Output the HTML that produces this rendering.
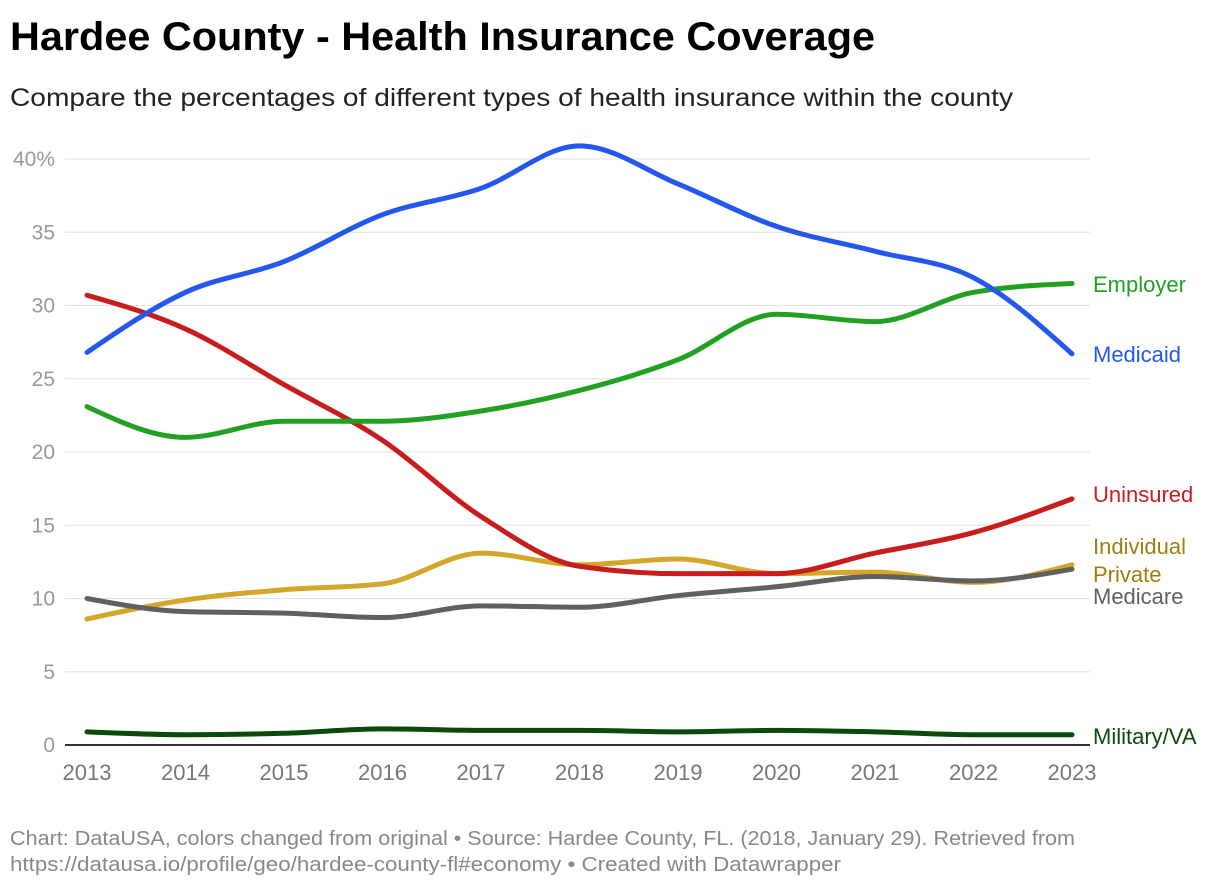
<!DOCTYPE html>
<html><head><meta charset="utf-8"><style>
body{margin:0;background:#fff;width:1220px;height:888px;overflow:hidden;font-family:"Liberation Sans",Roboto,sans-serif}
</style></head><body>
<svg id="chart" width="1220" height="888" xmlns="http://www.w3.org/2000/svg" font-family="Liberation Sans, sans-serif">
<text x="10" y="50" font-size="40" font-weight="bold" fill="#000" textLength="865" lengthAdjust="spacingAndGlyphs">Hardee County - Health Insurance Coverage</text>
<text x="10" y="106" font-size="25" fill="#222" textLength="1003" lengthAdjust="spacingAndGlyphs">Compare the percentages of different types of health insurance within the county</text>
<g id="grid"></g><g id="lines"></g><g id="labels"></g>
<text x="10" y="845" font-size="20" fill="#888" textLength="1065" lengthAdjust="spacingAndGlyphs">Chart: DataUSA, colors changed from original • Source: Hardee County, FL. (2018, January 29). Retrieved from</text>
<text x="10" y="871" font-size="20" fill="#888" textLength="831" lengthAdjust="spacingAndGlyphs">https://datausa.io/profile/geo/hardee-county-fl#economy • Created with Datawrapper</text>
</svg>
<script>
const years=[2013,2014,2015,2016,2017,2018,2019,2020,2021,2022,2023];
const yTicks=[0,5,10,15,20,25,30,35,40];
const medicaid=[26.8,30.9,33.0,36.2,38.0,40.9,38.3,35.4,33.7,31.9,26.7];
const employer=[23.1,21.0,22.1,22.1,22.8,24.2,26.3,29.4,28.9,30.9,31.5];
const uninsured=[30.7,28.4,24.6,20.8,15.6,12.2,11.7,11.7,13.1,14.5,16.8];
const individualPrivate=[8.6,9.9,10.6,11.0,13.1,12.3,12.7,11.7,11.8,11.1,12.3];
const medicare=[10.0,9.1,9.0,8.7,9.5,9.4,10.2,10.8,11.5,11.2,12.0];
const military=[0.9,0.7,0.8,1.1,1.0,1.0,0.9,1.0,0.9,0.7,0.7];
const seriesNames=["Employer","Medicaid","Uninsured","Individual Private","Medicare","Military/VA"];

const NS="http://www.w3.org/2000/svg";
const x=v=>87+(v-2013)*98.5;
const y=v=>745-v*14.65;
function mk(t,a,p){const e=document.createElementNS(NS,t);for(const k in a)e.setAttribute(k,a[k]);p.appendChild(e);return e;}
const grid=document.getElementById('grid');
yTicks.forEach(t=>{
  if(t>0){const l=mk('line',{x1:65,x2:1090,y1:y(t),y2:y(t),stroke:'#e0e0e0','stroke-width':1},grid);
  
  }
  const tx=mk('text',{x:55,y:y(t)+7,'text-anchor':'end','font-size':21,fill:'#999'},grid);
  tx.textContent=t===40?'40%':t;
  
  
});
const base=mk('line',{x1:65,x2:1090,y1:745,y2:745,stroke:'#333','stroke-width':2},grid);


years.forEach(yr=>{
  const tx=mk('text',{x:x(yr),y:780,'text-anchor':'middle','font-size':22,fill:'#777'},grid);
  tx.textContent=yr;
  
  
});
function monotonePath(xs,ys){
  const n=xs.length,d=[],m=[];
  for(let i=0;i<n-1;i++)d.push((ys[i+1]-ys[i])/(xs[i+1]-xs[i]));
  for(let i=1;i<n-1;i++){ if(d[i-1]*d[i]<=0)m[i]=0; else {const h0=xs[i]-xs[i-1],h1=xs[i+1]-xs[i];
    const s=(d[i-1]*h1+d[i]*h0)/(h0+h1);m[i]=Math.sign(s)*Math.min(Math.abs(s),2*Math.abs(d[i-1]),2*Math.abs(d[i]));}}
  m[0]=(3*d[0]-m[1])/2; m[n-1]=(3*d[n-2]-m[n-2])/2;
  let p='M'+xs[0]+','+ys[0];
  for(let i=0;i<n-1;i++){const h=(xs[i+1]-xs[i])/3;
    p+=' C'+(xs[i]+h)+','+(ys[i]+m[i]*h)+' '+(xs[i+1]-h)+','+(ys[i+1]-m[i+1]*h)+' '+xs[i+1]+','+ys[i+1];}
  return p;
}
const lines=document.getElementById('lines');
const series=[
 [individualPrivate,'#d4a62a','line-individual-private'],
 [medicare,'#606060','line-medicare'],
 [military,'#0b4a0b','line-military-va'],
 [uninsured,'#c91d1d','line-uninsured'],
 [employer,'#22a022','line-employer'],
 [medicaid,'#2357f0','line-medicaid']];
series.forEach(([vals,c,name])=>{
  const p=mk('path',{d:monotonePath(years.map(x),vals.map(y)),fill:'none',stroke:c,'stroke-width':5,'stroke-linecap':'round'},lines);
  
  
});
const labels=document.getElementById('labels');
const lab=[["Employer",'#22a022',292],["Medicaid",'#2357f0',362],["Uninsured",'#c91d1d',502],
 ["Individual",'#a07f10',554],["Private",'#a07f10',582],["Medicare",'#606060',604],["Military/VA",'#0b4a0b',744]];
lab.forEach(([t,c,yy])=>{
  const tx=mk('text',{x:1093,y:yy,'font-size':22,fill:c},labels);
  tx.textContent=t;
  
  
});
</script>
</body></html>
